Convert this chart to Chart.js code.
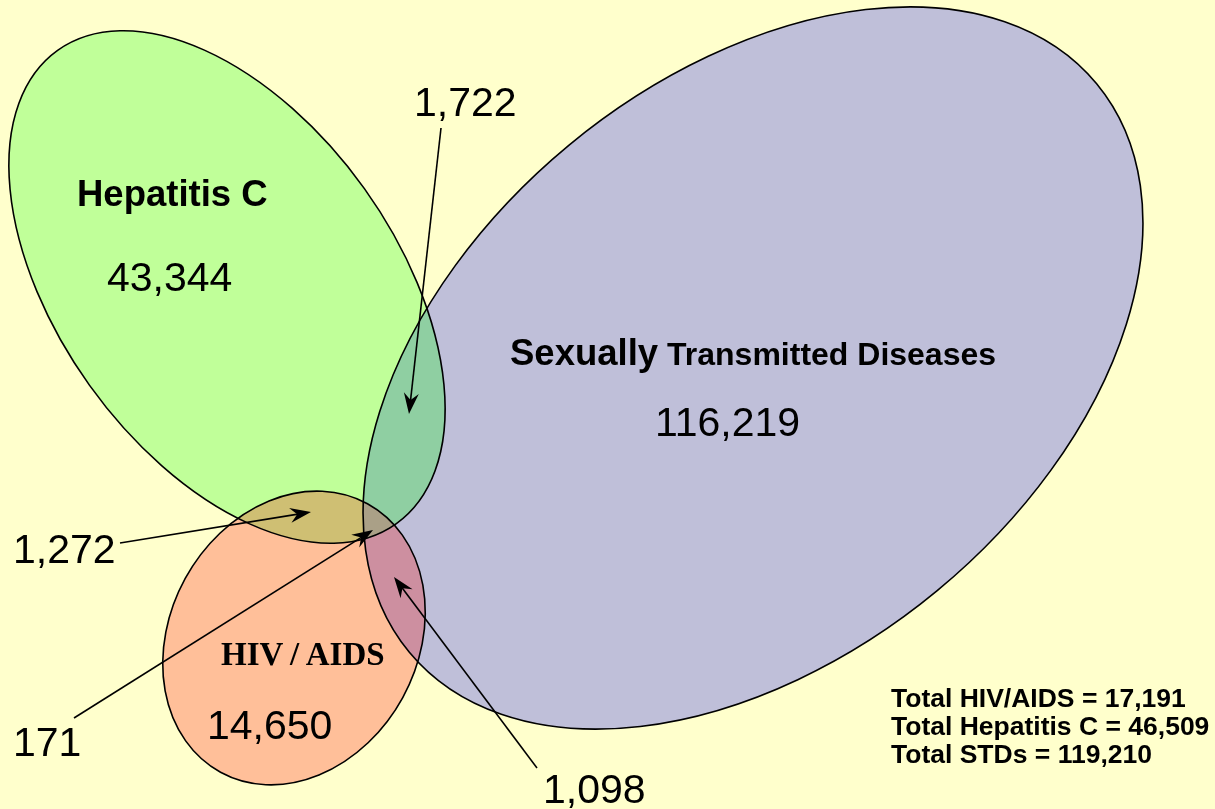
<!DOCTYPE html>
<html>
<head>
<meta charset="utf-8">
<script src="https://cdn.jsdelivr.net/npm/chart.js@4/dist/chart.umd.min.js"></script>
<style>
  html, body { margin: 0; padding: 0; background: #ffffcc; }
  canvas { display: block; }
</style>
</head>
<body>
<canvas id="venn" width="1215" height="809"></canvas>
<script>
// Dados do diagrama
const sets = ['Hepatitis C', 'Sexually Transmitted Diseases', 'HIV/AIDS'];
const onlyCounts = [43344, 116219, 14650];
const pairNames = ['Hep C + STD', 'Hep C + HIV', 'HIV + STD'];
const pairCounts = [1722, 1272, 1098];
const tripleCount = 171;
const totalNames = ['HIV/AIDS', 'Hepatitis C', 'STDs'];
const totalValues = [17191, 46509, 119210];

// Layout (em unidades do eixo, não dados)
const ellipses = [
    { cx: 227, cy: 287, rx: 291, ry: 169, rot: 54.4, fill: '#c0ff99' },   // Hepatitis C
    { cx: 753, cy: 368, rx: 446, ry: 289, rot: -39.6, fill: '#bfbfd9' },  // STD
    { cx: 294, cy: 638, rx: 153, ry: 124, rot: -61.3, fill: '#ffbf99' }   // HIV/AIDS
];
const overlapFills = [
    { sets: [0, 1], fill: '#8fcfa2' },
    { sets: [0, 2], fill: '#cfbf73' },
    { sets: [1, 2], fill: '#cd8fa0' },
    { sets: [0, 1, 2], fill: '#aaa087' }
];
const fmt = n => n.toLocaleString('en-US');

const vennPlugin = {
    id: 'venn',
    beforeDraw(chart) {
        const c = chart.ctx;
        c.save();
        c.fillStyle = '#ffffcc';
        c.fillRect(0, 0, chart.width, chart.height);
        c.restore();
    },
    afterDatasetsDraw(chart) {
        const c = chart.ctx;
        const xs = chart.scales.x, ys = chart.scales.y;
        const px = v => xs.getPixelForValue(v);
        const py = v => ys.getPixelForValue(v);

        function ellPath(e) {
            const x = px(e.cx), y = py(e.cy);
            const rx = Math.abs(px(e.cx + e.rx) - x);
            const ry = Math.abs(py(e.cy + e.ry) - y);
            c.beginPath();
            c.ellipse(x, y, rx, ry, e.rot * Math.PI / 180, 0, Math.PI * 2);
        }

        // preenchimentos
        ellipses.forEach(e => { ellPath(e); c.fillStyle = e.fill; c.fill(); });
        overlapFills.forEach(o => {
            c.save();
            o.sets.forEach(i => { ellPath(ellipses[i]); c.clip(); });
            c.fillStyle = o.fill;
            c.fillRect(0, 0, chart.width, chart.height);
            c.restore();
        });
        // contornos
        c.lineWidth = 1.6;
        c.strokeStyle = '#000';
        ellipses.forEach(e => { ellPath(e); c.stroke(); });

        // setas
        function arrow(x1, y1, x2, y2) {
            const ax = px(x1), ay = py(y1), bx = px(x2), by = py(y2);
            const ang = Math.atan2(by - ay, bx - ax);
            c.save();
            c.strokeStyle = '#000';
            c.fillStyle = '#000';
            c.lineWidth = 1.6;
            c.beginPath();
            c.moveTo(ax, ay);
            c.lineTo(bx - 10 * Math.cos(ang), by - 10 * Math.sin(ang));
            c.stroke();
            c.translate(bx, by);
            c.rotate(ang);
            c.beginPath();
            c.moveTo(0, 0);
            c.lineTo(-21, -7.5);
            c.lineTo(-14, 0);
            c.lineTo(-21, 7.5);
            c.closePath();
            c.fill();
            c.restore();
        }
        arrow(441, 128, 409, 414);
        arrow(120, 543, 311, 512);
        arrow(74, 718, 373, 530);
        arrow(537, 768, 394, 577);

        // textos
        function text(str, x, y, font) {
            c.font = font;
            c.fillStyle = '#000';
            c.textAlign = 'left';
            c.textBaseline = 'alphabetic';
            c.fillText(str, px(x), py(y));
        }
        const num = '41px "Liberation Sans", Arial, sans-serif';
        text(sets[0], 77, 206, 'bold 36.5px "Liberation Sans", Arial, sans-serif');
        text(fmt(onlyCounts[0]), 107, 291, num);
        text('Sexually', 510, 365, 'bold 36.5px "Liberation Sans", Arial, sans-serif');
        text('Transmitted Diseases', 667, 365, 'bold 32px "Liberation Sans", Arial, sans-serif');
        text(fmt(onlyCounts[1]), 655, 436, num);
        text('HIV\u2009/\u2009AIDS', 221, 665, 'bold 33px "Liberation Serif", "Times New Roman", serif');
        text(fmt(onlyCounts[2]), 207, 739, num);
        text(fmt(pairCounts[0]), 414, 116, num);
        text(fmt(pairCounts[1]), 13, 563, num);
        text(fmt(tripleCount), 13, 756, num);
        text(fmt(pairCounts[2]), 543, 803, num);
        const tf = 'bold 26.5px "Liberation Sans", Arial, sans-serif';
        totalValues.forEach((v, i) => {
            text('Total ' + totalNames[i] + ' = ' + fmt(v), 891, 707 + i * 28, tf);
        });
    }
};

new Chart(document.getElementById('venn'), {
    type: 'scatter',
    data: { datasets: [{ label: 'venn', data: [], pointRadius: 0 }] },
    options: {
        responsive: false,
        animation: false,
        layout: { padding: 0 },
        plugins: { legend: { display: false }, tooltip: { enabled: false } },
        scales: {
            x: { type: 'linear', min: 0, max: 1215, display: false },
            y: { type: 'linear', min: 0, max: 809, reverse: true, display: false }
        }
    },
    plugins: [vennPlugin]
});
</script>
</body>
</html>
